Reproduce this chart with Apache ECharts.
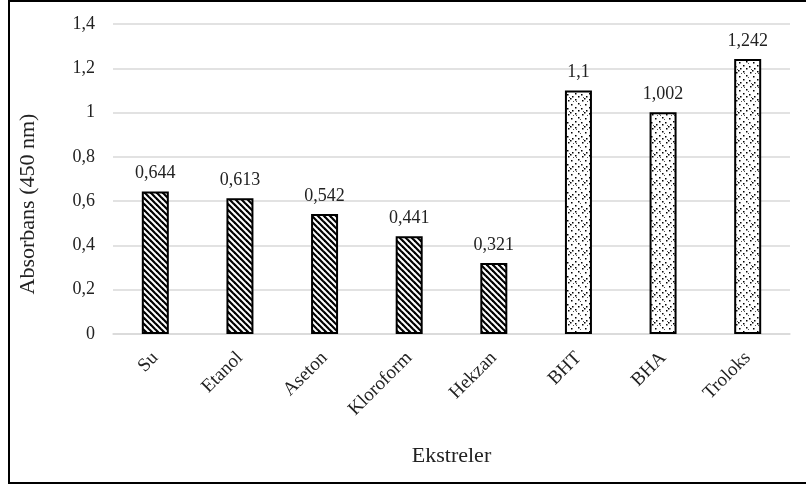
<!DOCTYPE html>
<html>
<head>
<meta charset="utf-8">
<script src="https://cdn.jsdelivr.net/npm/echarts@6/dist/echarts.min.js"></script>
<style>
  html, body { margin: 0; padding: 0; background: #fff; }
  #chart { width: 806px; height: 488px; }
</style>
</head>
<body>
<div id="chart"></div>
<script>
// Extracts and reference antioxidants
const categories = ['Su', 'Etanol', 'Aseton', 'Kloroform', 'Hekzan', 'BHT', 'BHA', 'Troloks'];
const absorbance = [0.644, 0.613, 0.542, 0.441, 0.321, 1.1, 1.002, 1.242];
// Which bars are plant extracts (striped) vs. standards (dotted)
const groups = ['extract', 'extract', 'extract', 'extract', 'extract', 'standard', 'standard', 'standard'];
const yTickLabels = ['0', '0,2', '0,4', '0,6', '0,8', '1', '1,2', '1,4'];

const FONT = '"Liberation Serif", "Times New Roman", serif';

// Diagonal hatch fill
function makeStripes() {
  const s = 6;
  const c = document.createElement('canvas');
  c.width = s; c.height = s;
  const g = c.getContext('2d');
  g.fillStyle = '#fff';
  g.fillRect(0, 0, s, s);
  g.strokeStyle = '#000';
  g.lineWidth = 2.2;
  for (let k = -1; k <= 1; k++) {
    g.beginPath();
    g.moveTo(k * s - 1, -1);
    g.lineTo(k * s + s + 1, s + 1);
    g.stroke();
  }
  return c;
}

// Sparse dot fill
function makeDots() {
  const s = 14;
  const c = document.createElement('canvas');
  c.width = s; c.height = s;
  const g = c.getContext('2d');
  g.fillStyle = '#fff';
  g.fillRect(0, 0, s, s);
  g.fillStyle = '#000';
  const pts = [[1,1],[8,2],[4,5],[11,6],[1,9],[7,10],[12,12],[4,12],[10,0]];
  pts.forEach(p => g.fillRect(p[0], p[1], 1.5, 1.5));
  g.fillStyle = '#555';
  const pts2 = [[6,7],[13,3],[2,3],[9,13]];
  pts2.forEach(p => g.fillRect(p[0], p[1], 1, 1));
  return c;
}

const stripeFill = { image: makeStripes(), repeat: 'repeat' };
const dotFill = { image: makeDots(), repeat: 'repeat' };

const chart = echarts.init(document.getElementById('chart'));

chart.setOption({
  animation: false,
  backgroundColor: '#fff',
  grid: { left: 113, right: 16, top: 24, bottom: 154 },
  graphic: [
    {
      type: 'rect',
      shape: { x: 9, y: 1, width: 820, height: 482 },
      style: { fill: 'none', stroke: '#000', lineWidth: 2 },
      silent: true
    },
    {
      type: 'text',
      x: 28, y: 204,
      rotation: Math.PI / 2,
      style: {
        text: 'Absorbans (450 nm)',
        font: '22px ' + FONT,
        fill: '#222',
        align: 'center',
        verticalAlign: 'middle'
      }
    }
  ],
  xAxis: {
    type: 'category',
    data: categories,
    name: 'Ekstreler',
    nameLocation: 'middle',
    nameGap: 111,
    nameTextStyle: { fontFamily: FONT, fontSize: 22, color: '#222' },
    axisLine: { lineStyle: { color: '#d9d9d9', width: 1.5 } },
    axisTick: { show: false },
    axisLabel: {
      rotate: 45,
      interval: 0,
      margin: 21,
      fontFamily: FONT,
      fontSize: 19,
      color: '#222'
    }
  },
  yAxis: {
    type: 'value',
    min: 0,
    max: 1.4,
    interval: 0.2,
    axisLine: { show: false },
    axisTick: { show: false },
    splitLine: { lineStyle: { color: '#d9d9d9', width: 1.5 } },
    axisLabel: {
      margin: 18,
      fontFamily: FONT,
      fontSize: 18,
      color: '#222',
      formatter: (v) => yTickLabels[Math.round(v / 0.2)]
    }
  },
  series: [{
    type: 'bar',
    barWidth: 27,
    data: absorbance.map((v, i) => ({
      value: v,
      itemStyle: { color: groups[i] === 'extract' ? stripeFill : dotFill }
    })),
    itemStyle: { borderColor: '#000', borderWidth: 2 },
    label: {
      show: true,
      position: 'top',
      distance: 9,
      fontFamily: FONT,
      fontSize: 18,
      color: '#222',
      formatter: (p) => String(p.value).replace('.', ',')
    }
  }]
});
</script>
</body>
</html>
